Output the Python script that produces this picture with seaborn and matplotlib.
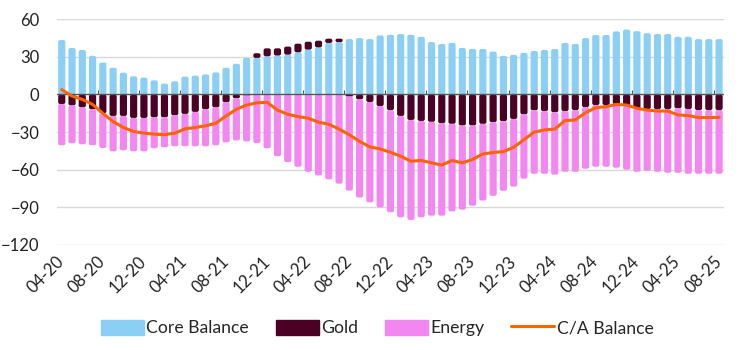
import numpy as np
import pandas as pd
import seaborn as sns
import matplotlib.pyplot as plt
from matplotlib.patches import Patch, FancyBboxPatch, Rectangle
from matplotlib.lines import Line2D

# Monthly labels, Apr 2020 - Aug 2025
months = pd.date_range('2020-04-01', '2025-08-01', freq='MS').strftime('%m-%y').tolist()

core_balance = [43.4, 37.1, 35.5, 30.8, 25.5, 21.3, 17.4, 14.5, 13.4, 11.3, 8.7, 10.5, 14.3,
                15.0, 16.0, 17.6, 21.3, 24.5, 29.2, 29.2, 30.5, 31.1, 31.8, 33.7, 35.8, 37.6,
                41.1, 41.8, 44.2, 45.0, 44.2, 47.1, 47.6, 48.2, 47.6, 46.0, 41.8, 40.3, 41.1,
                37.1, 36.3, 36.3, 34.2, 30.8, 31.6, 33.2, 34.7, 35.5, 36.3, 41.1, 40.3, 45.0,
                47.4, 47.4, 50.3, 51.8, 50.5, 48.9, 48.2, 48.2, 46.0, 46.0, 44.2, 44.2, 44.2]

gold = [-7.6, -8.7, -10.3, -11.8, -15.0, -17.1, -17.1, -18.7, -18.7, -18.2, -18.2, -16.6, -15.5,
        -13.9, -11.8, -10.3, -6.2, -3.0, -0.8, 3.7, 6.3, 5.7, 6.4, 6.8, 6.3, 5.3,
        3.4, 2.7, -1.6, -3.9, -6.0, -9.2, -12.4, -17.1, -20.3, -21.1, -21.8, -22.9, -23.4,
        -24.7, -24.7, -23.4, -22.1, -21.3, -19.5, -15.8, -12.6, -13.2, -14.2, -13.2, -12.4, -10.0,
        -8.4, -8.4, -7.6, -9.2, -11.0, -11.6, -11.6, -11.6, -11.0, -11.6, -12.4, -12.4, -12.4]

energy = [-32.9, -30.2, -29.4, -28.7, -27.6, -28.2, -27.4, -26.6, -26.6, -24.7, -23.9, -24.7, -25.8,
          -27.4, -29.5, -30.2, -32.0, -33.6, -36.6, -38.7, -42.9, -49.2, -53.9, -57.6, -61.6, -64.5,
          -67.6, -71.1, -75.0, -78.2, -80.0, -80.8, -81.5, -80.8, -79.7, -76.8, -74.8, -73.7, -69.8,
          -67.1, -64.0, -61.1, -58.7, -55.5, -53.9, -51.3, -50.6, -50.0, -49.7, -48.4, -49.2, -49.2,
          -49.2, -49.2, -50.8, -50.8, -50.6, -49.2, -50.0, -50.8, -51.4, -51.6, -50.8, -50.8, -50.8]

ca_balance = [3.9, -1.3, -3.9, -7.9, -15.0, -21.6, -26.3, -29.5, -30.8, -31.6, -32.1, -30.8, -27.4,
              -26.3, -25.0, -22.9, -17.1, -11.8, -8.4, -6.6, -6.3, -12.4, -15.8, -17.6, -18.9, -22.1,
              -23.7, -27.6, -32.1, -37.4, -41.8, -43.4, -46.1, -49.2, -53.2, -52.6, -54.5, -56.3, -52.6,
              -54.5, -51.8, -47.4, -46.3, -45.5, -42.1, -36.0, -30.0, -28.2, -27.6, -20.8, -20.3, -14.5,
              -10.5, -9.7, -7.9, -8.4, -11.0, -12.4, -13.2, -13.2, -16.3, -16.8, -18.4, -18.4, -18.2]

df = pd.DataFrame({'Month': months, 'Core': core_balance, 'Gold': gold,
                   'Energy': energy, 'CA': ca_balance})

c_core = '#8CCFF5'
c_gold = '#4A0124'
c_energy = '#F287F2'
c_line = '#FF6200'

sns.set_style('white')
plt.rcParams['font.family'] = ['Lato', 'DejaVu Sans']

fig = plt.figure(figsize=(7.47, 3.5), dpi=100)
ax = fig.add_axes([0.0758, 0.30, 0.8937, 0.645])

# Stacking bases
gold_pos = df['Gold'].clip(lower=0)
gold_neg = df['Gold'].clip(upper=0)

sns.barplot(data=df, x='Month', y='Core', color=c_core, width=0.7, saturation=1, ax=ax)
sns.barplot(x=df['Month'], y=gold_pos, bottom=df['Core'].values, color=c_gold,
            width=0.7, saturation=1, ax=ax)
sns.barplot(x=df['Month'], y=gold_neg, color=c_gold, width=0.7, saturation=1, ax=ax)
sns.barplot(x=df['Month'], y=df['Energy'], bottom=gold_neg.values, color=c_energy,
            width=0.7, saturation=1, ax=ax)
sns.lineplot(x=np.arange(len(df)), y=df['CA'], color=c_line, linewidth=2.2, ax=ax, zorder=5)

ax.set_ylim(-120, 60)
ax.set_xlim(-0.5, len(df) - 0.5)

# Round the bar corners (about 2 px), compensating for the axes aspect
bbox_px = ax.get_position().transformed(fig.transFigure)
px_x = bbox_px.width / len(df)
px_y = bbox_px.height / 180
aspect = px_x / px_y
r_x = 2.0 / px_x
for p in list(ax.patches):
    if not isinstance(p, Rectangle):
        continue
    x0, w = p.get_x(), p.get_width()
    y0, h = p.get_y(), p.get_height()
    if h < 0:
        y0, h = y0 + h, -h
    fc, z = p.get_facecolor(), p.get_zorder()
    p.remove()
    if h <= 0:
        continue
    r = min(r_x, w / 2, h / aspect / 2)
    ax.add_patch(FancyBboxPatch((x0, y0), w, h, boxstyle=f'round,pad=0,rounding_size={r}',
                                mutation_aspect=aspect, facecolor=fc, edgecolor='none',
                                zorder=z))

ax.set_yticks([-120, -90, -60, -30, 0, 30, 60])
ax.yaxis.grid(True, color='#D9D9D9', linewidth=1)
ax.set_axisbelow(True)
ax.axhline(0, color='#555555', linewidth=1, zorder=4)
for s in ax.spines.values():
    s.set_visible(False)

ax.set_xticks(range(0, len(df), 4))
ax.set_xticklabels(df['Month'][::4], rotation=45, ha='right', va='center',
                   rotation_mode='anchor', fontsize=12, color='#222222')
ax.tick_params(axis='x', length=0, pad=10)
ax.tick_params(axis='y', length=0, pad=12.5, labelsize=12, labelcolor='#222222')
ax.set_xlabel('')
ax.set_ylabel('')

# small category-boundary ticks on the zero line
sec = ax.secondary_xaxis(2 / 3)
sec.set_xticks(np.arange(-0.5, len(df), 4)[1:])
sec.tick_params(axis='x', direction='out', length=3, color='#555555', labelbottom=False,
                labeltop=False, labelsize=0)
sec.spines['bottom'].set_visible(False)
sec.spines['top'].set_visible(False)

handles = [Patch(color=c_core, label='Core Balance'),
           Patch(color=c_gold, label='Gold'),
           Patch(color=c_energy, label='Energy'),
           Line2D([], [], color=c_line, linewidth=2.2, label='C/A Balance')]
fig.legend(handles=handles, loc='center', bbox_to_anchor=(0.505, 0.063), ncol=4, frameon=False,
           fontsize=12.7, handlelength=2.45, handleheight=0.95, handletextpad=0.15,
           columnspacing=1.5)

plt.savefig('out.png', dpi=100)
